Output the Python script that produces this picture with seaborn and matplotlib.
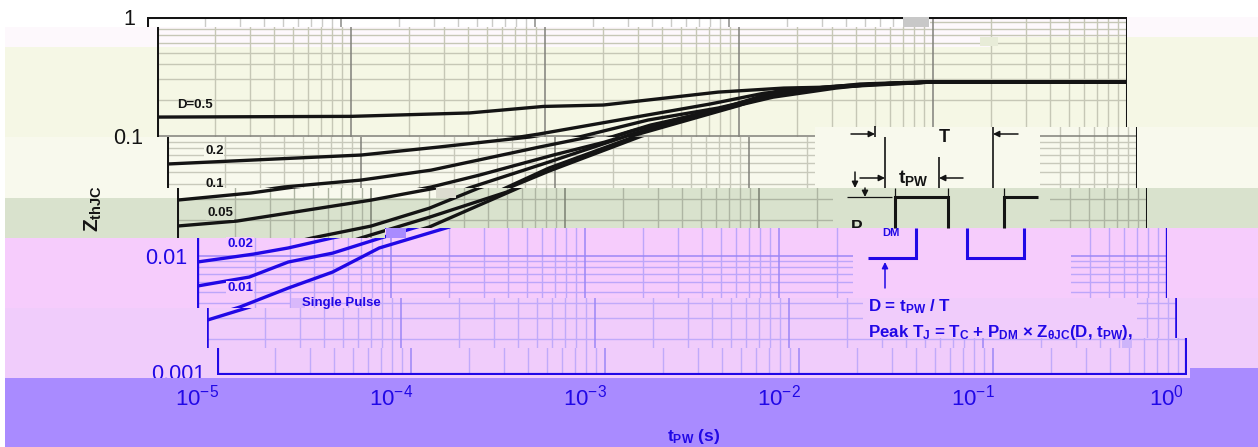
import numpy as np
import pandas as pd
import matplotlib
matplotlib.use("Agg")
import matplotlib.pyplot as plt
import seaborn as sns
from matplotlib.path import Path
from matplotlib.patches import Rectangle, Polygon
from matplotlib.transforms import Bbox, TransformedBbox, Affine2D
from matplotlib.ticker import NullLocator, NullFormatter

# ---- data ----
T_05 = [1e-5, 1e-4, 4.07e-4, 9.8e-4, 2e-3, 7.8e-3, 1.7e-2, 2.95e-2, 4.2e-2, 8.5e-2, 1.0]
Z_05 = [.145, .147, .157, .178, .183, .2347, .2537, .2587, .2743, .2853, .2853]
T_02 = [1e-5, 1e-4, 2.51e-4, 7.4e-4, 9.3e-4, 2.75e-3, 7.1e-3, 1.35e-2, 3.16e-2, 5e-2, .1, 1.0]
Z_02 = [.0586, .0697, .0813, .0987, .1045, .1424, .1866, .2302, .2638, .2743, .2853, .2853]
T_01 = [1e-5, 2.4e-5, 4e-5, 1e-4, 2.3e-4, 8.3e-4, 1.5e-3, 3.4e-3, 7.8e-3, 1.5e-2, 3.16e-2, 5e-2, .1, 1.0]
Z_01 = [.0292, .0335, .0376, .043, .0521, .0813, .0987, .137, .1726, .2215, .2587, .2743, .2853, .2853]
T_005 = [1e-5, 2.04e-5, 1e-4, 2.3e-4, 4.07e-4, 9.8e-4, 1.8e-3, 3.5e-3, 7.8e-3, 1.5e-2, 3.16e-2, 5e-2, .1, 1.0]
Z_005 = [.0177, .0195, .0292, .0376, .0473, .0697, .0894, .1243, .166, .213, .2537, .2743, .2853, .2853]
T_002 = [1e-5, 1.95e-5, 2.95e-5, 5e-5, 1e-4, 2e-4, 3.6e-4, 9.3e-4, 2.8e-3, 8.9e-3, 1.7e-2, 3.16e-2, 5e-2, .1, 1.0]
Z_002 = [.00884, .0103, .0116, .0141, .0177, .025, .0369, .0609, .1107, .1795, .2488, .2587, .2743, .2853, .2853]
T_001 = [1e-5, 1.86e-5, 2.95e-5, 5e-5, 8.9e-5, 2e-4, 5e-4, 9.3e-4, 2.8e-3, 9.8e-3, 1.7e-2, 3.16e-2, 5e-2, .1, 1.0]
Z_001 = [.00556, .00662, .00884, .0105, .0141, .021, .0341, .0542, .1045, .183, .2464, .26, .2716, .2853, .2853]
T_SP = [1e-5, 1.66e-5, 2.95e-5, 5e-5, 8.7e-5, 2e-4, 5.9e-4, 9.3e-4, 2.8e-3, 9.8e-3, 1.7e-2, 3.16e-2, 5e-2, .1, 1.0]
Z_SP = [.00288, .00371, .00535, .00729, .0116, .0174, .0376, .0511, .1006, .1795, .244, .2587, .269, .2853, .2853]

SERIES = [("0.5", T_05, Z_05), ("0.2", T_02, Z_02), ("0.1", T_01, Z_01), ("0.05", T_005, Z_005),
          ("0.02", T_002, Z_002), ("0.01", T_001, Z_001), ("single", T_SP, Z_SP)]
X_TICKS = [1e-5, 1e-4, 1e-3, 1e-2, 1e-1, 1.0]
X_LABELS = [r"$\mathregular{10^{-5}}$", r"$\mathregular{10^{-4}}$", r"$\mathregular{10^{-3}}$",
            r"$\mathregular{10^{-2}}$", r"$\mathregular{10^{-1}}$", r"$\mathregular{10^{0}}$"]
X_DECADES = [1e-5, 1e-4, 1e-3, 1e-2, 1e-1]
Y_DECADES = [1e-3, 1e-2, 1e-1]

df = pd.DataFrame([(d, t, z) for d, ts, zs in SERIES for t, z in zip(ts, zs)], columns=["D", "t", "z"])

sns.set_theme(style="white")
plt.rcParams["font.family"] = ["Liberation Sans", "DejaVu Sans"]
plt.rcParams["mathtext.fontset"] = "custom"
plt.rcParams["mathtext.rm"] = "Liberation Sans"
plt.rcParams["mathtext.bf"] = "Liberation Sans:bold"
plt.rcParams["mathtext.default"] = "regular"

W, H = 1258, 447
BLACK, BLUE = "#141414", "#2108e6"
fig = plt.figure(figsize=(W / 100, H / 100), dpi=100, facecolor="white")


def full_axes(z):
    a = fig.add_axes([0, 0, 1, 1], zorder=z)
    a.set_xlim(0, W)
    a.set_ylim(H, 0)
    a.axis("off")
    return a


bg = full_axes(0)
ann = full_axes(20)


def step_poly(left, right, top, bottom):
    """Stepped band: top and bottom are (break x, y left of it, y right of it)."""
    xt, tl, tr = top
    xb, bl, br = bottom
    return [(left, tl), (xt, tl), (xt, tr), (right, tr), (right, br), (xb, br), (xb, bl), (left, bl)]


# background colour bands
BANDS = [("#fdf8fc", (930, 27, 17), (990, 47, 37)),
         ("#f5f7e5", (990, 47, 37), (815, 137, 127)),
         ("#f8f9ed", (815, 137, 127), (445, 198, 188)),
         ("#d9e2cd", (445, 198, 188), (385, 238, 228)),
         ("#f6ccfc", (385, 238, 228), (370, 308, 298)),
         ("#f0ccfb", (370, 308, 298), (1190, 378, 368)),
         ("#a98bff", (1190, 378, 368), (0, 447, 447))]
for col, top, bottom in BANDS:
    bg.add_patch(Polygon(step_poly(5, W, top, bottom), closed=True, fc=col, ec="none"))

# shifted slices: axes left px, clip top, clip bottom, ink, grid colours, horizontal grid?, masks, frame width
ROWS = [
    (147, (930, 0, 0), (930, 27, 15), BLACK, "#cbcbc8", "#8a8a88", False, [], 2.2),
    (157, (930, 27, 15), (815, 137, 127), BLACK, "#c6c7b6", "#80807a", True, [], 2.2),
    (167, (815, 137, 127), (0, 188, 188), BLACK, "#c8c9bb", "#80807a", True, [(815, 127, 1040, 188, "#f8f9ed")], 2.2),
    (177, (0, 188, 188), (385, 238, 228), BLACK, "#aeb5a3", "#7b8072", True, [(833, 188, 1050, 228, "#d9e2cd")], 2.2),
    (197, (385, 238, 228), (370, 308, 298), BLUE, "#bda6fa", "#9c86f6", True, [(853, 228, 1071, 298, "#f6ccfc")], 2.4),
    (207, (370, 308, 298), (1130, 348, 338), BLUE, "#c0aafa", "#9c86f6", True, [(863, 298, 1137, 338, "#f0ccfb")], 2.6),
    (217, (1130, 348, 338), (0, 400, 400), BLUE, "#c0aafa", "#9c86f6", True, [], 3.0),
]
Y_TOP, Y_BOT, AX_W = 17, 375, 970
axes = {}
for i, (x0, top, bottom, ink, gc, gm, hgrid, masks, frame_lw) in enumerate(ROWS):
    ax = fig.add_axes([x0 / W, 1 - Y_BOT / H, AX_W / W, (Y_BOT - Y_TOP) / H], zorder=2 + i)
    axes[x0] = ax
    ax.patch.set_visible(False)
    sns.lineplot(data=df, x="t", y="z", hue="D", palette={d: ink for d, _, _ in SERIES}, estimator=None,
                 sort=False, legend=False, linewidth=2.4, ax=ax, zorder=3)
    ax.set_xscale("log")
    ax.set_yscale("log")
    ax.set_xlim(1e-5, 1)
    ax.set_ylim(1e-3, 1)
    ax.set_xlabel("")
    ax.set_ylabel("")
    ax.xaxis.set_minor_locator(NullLocator())
    ax.yaxis.set_minor_locator(NullLocator())
    ax.xaxis.set_minor_formatter(NullFormatter())
    ax.yaxis.set_minor_formatter(NullFormatter())
    ax.set_xticks([])
    ax.set_yticks([])

    clip = Path(step_poly(0, W, top, bottom) + [(0, top[1])], closed=True)
    arts = list(ax.get_lines())
    # grid
    for d in X_DECADES:
        for m in range(2, 10):
            arts.append(ax.vlines(d * m, 1e-3, 1, color=gc, lw=1.0, zorder=1))
        if d > 1e-5:
            arts.append(ax.vlines(d, 1e-3, 1, color=gm, lw=1.1, zorder=1.1))
    if hgrid:
        for d in Y_DECADES:
            for m in range(2, 10):
                arts.append(ax.hlines(d * m, 1e-5, 1, color=gc, lw=1.0, zorder=1))
            if d > 1e-3:
                arts.append(ax.hlines(d, 1e-5, 1, color=gm, lw=1.1, zorder=1.1))
    for mx0, my0, mx1, my1, mc in masks:
        arts.append(ax.add_patch(Rectangle((mx0, my0), mx1 - mx0, my1 - my0, fc=mc, ec="none",
                                           transform=ann.transData, zorder=2)))
    for a in arts:
        a.set_clip_on(True)
        a.set_clip_path(clip, ann.transData)
    # frame: four edges of the slice, drawn past the axes box so that they keep their full width
    for s in ax.spines.values():
        s.set_visible(False)
    frame = ax.plot([1e-5, 1e-5, 1, 1, 1e-5], [1e-3, 1, 1, 1e-3, 1e-3], color=ink, lw=frame_lw, zorder=4,
                    solid_joinstyle="miter", solid_capstyle="projecting")[0]
    frame.set_clip_box(None)
    frame.set_clip_on(True)
    frame.set_clip_path(clip, ann.transData)
    ax.set_xlim(1e-5, 1)
    ax.set_ylim(1e-3, 1)
    ax.tick_params(axis="both", which="both", length=0)


def ylab(x0, val, text, pad_px, col):
    a = axes[x0]
    a.set_yticks([val], [text])
    a.tick_params(axis="y", pad=pad_px * 0.72, labelsize=15.5, labelcolor=col, length=0)
    return a.get_yticklabels()[0]


ylab(147, 1, "1", 12, BLACK)
ylab(157, 0.1, "0.1", 14, BLACK)
ylab(197, 0.01, "0.01", 10, BLUE)
lab = ylab(217, 0.001, "0.001", 12, BLUE)
lab.set_transform(lab.get_transform() + Affine2D().translate(0, 3))
lab.set_clip_on(True)
lab.set_clip_box(TransformedBbox(Bbox([[100, 340], [216, 378]]), ann.transData))

a = axes[197]
a.set_xticks(X_TICKS, X_LABELS)
a.tick_params(axis="x", pad=7, labelsize=16, labelcolor=BLUE, length=0)

# curve labels
TXT = dict(fontweight="bold", fontsize=9.5, ha="left", va="center")
BOX = lambda c: dict(fc=c, ec="none", pad=0.6)
ann.text(177, 105, "D=0.5", color=BLACK, **TXT)
ann.text(205, 151, "0.2", color=BLACK, bbox=BOX("#f8f9ed"), **TXT)
t01 = ann.text(205, 184, "0.1", color=BLACK, **TXT)
t01.set_clip_on(True)
t01.set_clip_box(TransformedBbox(Bbox([[200, 170], [230, 188]]), ann.transData))
ann.text(207, 213, "0.05", color=BLACK, bbox=BOX("#d9e2cd"), **TXT)
ann.text(227, 244, "0.02", color=BLUE, bbox=BOX("#f6ccfc"), **TXT)
ann.text(227, 288, "0.01", color=BLUE, bbox=BOX("#f6ccfc"), **TXT)
ann.text(302, 303, "Single Pulse", color=BLUE, **TXT)

# axis titles
yl = ann.text(93, 232, r"Z$_{\mathbf{thJC}}$", rotation=90, fontsize=15, fontweight="bold", color=BLACK,
              ha="center", va="bottom")
yl.set_clip_on(True)
yl.set_clip_box(TransformedBbox(Bbox([[75, 188], [115, 240]]), ann.transData))
ann.text(694, 436, r"t$_{\mathbf{PW}}$ (s)", fontsize=12.5, fontweight="bold", color=BLUE, ha="center", va="center")


# schematic of the pulse train
def seg(xs, ys, col=BLACK, lw=1.2):
    ann.plot(xs, ys, color=col, lw=lw, solid_capstyle="butt", solid_joinstyle="miter")


def arrow(x0, y0, x1, y1, col=BLACK):
    ann.annotate("", xy=(x1, y1), xytext=(x0, y0),
                 arrowprops=dict(arrowstyle="-|>", color=col, lw=1.1, mutation_scale=9, shrinkA=0, shrinkB=0))


seg([875, 875], [126, 137])
seg([993, 993], [127, 188])
seg([885, 885], [137, 188])
seg([939, 939], [157, 188])
arrow(851, 134, 875, 134)
arrow(1018, 134, 993, 134)
arrow(860, 178, 885, 178)
arrow(963, 178, 939, 178)
arrow(855, 172, 855, 188)
arrow(865, 188, 865, 197)
seg([847, 892], [197, 197], lw=0.9)
ann.text(944, 137, "T", fontsize=13, fontweight="bold", color=BLACK, ha="center", va="center")
tp = ann.text(898, 178, r"t$_{\mathbf{PW}}$", fontsize=14, fontweight="bold", color=BLACK, ha="left", va="center")
tp.set_clip_on(True)
tp.set_clip_box(TransformedBbox(Bbox([[890, 160], [940, 187]]), ann.transData))
# upper part of the pulses
seg([895, 895, 948, 948], [228, 197, 197, 228], lw=2.2)
seg([1003.5, 1003.5, 1038], [228, 197, 197], lw=2.2)
seg([895, 895], [188, 197], lw=0.9)
seg([948, 948], [188, 197], lw=0.9)
seg([1003.5, 1003.5], [188, 197], lw=0.9)
pdm = ann.text(851, 228, "P", fontsize=12.5, fontweight="bold", color=BLACK, ha="left", va="center")
pdm.set_clip_on(True)
pdm.set_clip_box(TransformedBbox(Bbox([[840, 210], [880, 228]]), ann.transData))
ann.text(882, 232.5, "DM", fontsize=8, fontweight="bold", color=BLUE, ha="left", va="center")
# lower part of the pulses
seg([868, 916, 916], [258, 258, 228], col=BLUE, lw=2.2)
seg([967, 967, 1024, 1024], [228, 258, 258, 228], col=BLUE, lw=2.2)
arrow(885, 288, 885, 262, col=BLUE)
ann.text(868, 307, r"D = t$_{\mathbf{PW}}$ / T", fontsize=12.2, fontweight="bold", color=BLUE, ha="left", va="center")
ann.text(868, 333,
         r"Peak T$_{\mathbf{J}}$ = T$_{\mathbf{C}}$ + P$_{\mathbf{DM}}$ × Z$_{\mathbf{θJC}}$(D, t$_{\mathbf{PW}}$),",
         fontsize=12.2, fontweight="bold", color=BLUE, ha="left", va="center")

# small blotches of the scan
for x, y, w, h, c in [(903, 17, 26, 10, "#c8c8c8"), (386, 228, 20, 10, "#a98bff"), (436, 188, 20, 10, "#dcdcd0"),
                      (291, 298, 14, 10, "#d9b8fb"), (1122, 338, 10, 10, "#cdb4fa"), (980, 37, 18, 9, "#e8ecd8")]:
    ann.add_patch(Rectangle((x, y), w, h, fc=c, ec="none"))

fig.savefig("out.png", dpi=100)
